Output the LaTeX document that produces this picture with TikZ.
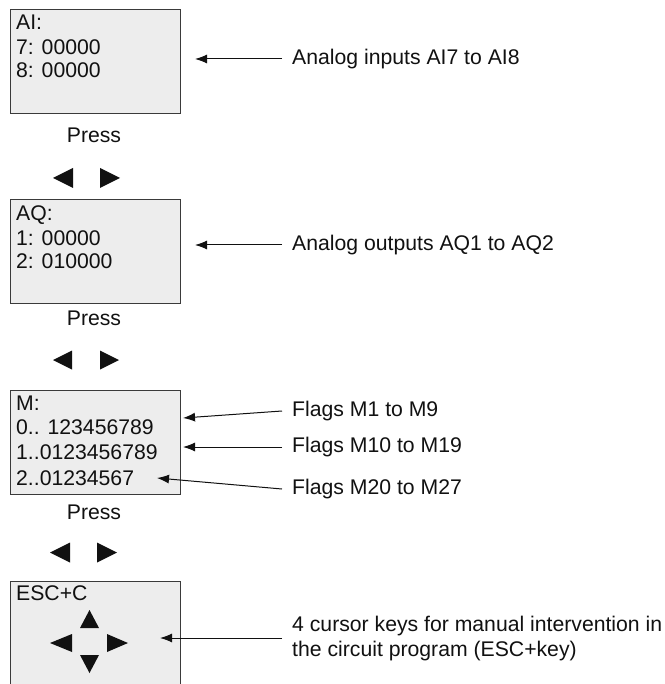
\documentclass[tikz,border=0pt]{standalone}
\usepackage{fontspec}
\setmainfont{Liberation Sans}
\usetikzlibrary{arrows.meta}
\definecolor{boxfill}{HTML}{EDEDED}
\definecolor{boxline}{HTML}{3A3A3A}
\definecolor{ink}{HTML}{111111}
\tikzset{
  screen/.style={draw=boxline, fill=boxfill, line width=1pt},
  scrtext/.style={anchor=base west, inner sep=0pt, text=ink, font=\fontsize{21.2}{25}\selectfont},
  presstext/.style={anchor=base, inner sep=0pt, text=ink, font=\fontsize{21.2}{25}\selectfont},
  label/.style={anchor=west, inner ysep=0pt, inner xsep=10pt, text=ink, font=\fontsize{21.2}{25}\selectfont, align=left},
  pointer/.style={draw=ink, line width=1pt, -{Latex[length=12pt,width=9pt]}},
  key/.style={fill=ink, draw=none}
}
\begin{document}
\begin{tikzpicture}[x=1pt,y=-1pt]
\clip (0,0) rectangle (664,684);
\fill[white] (0,0) rectangle (664,684);

% screens
\node[screen, minimum width=170pt, minimum height=104pt, anchor=north west, inner sep=0pt] (s1) at (10,9) {};
\node[screen, minimum width=170pt, minimum height=104pt, anchor=north west, inner sep=0pt] (s2) at (10,199) {};
\node[screen, minimum width=170pt, minimum height=104pt, anchor=north west, inner sep=0pt] (s3) at (10,390) {};
\node[screen, minimum width=170pt, minimum height=115pt, anchor=north west, inner sep=0pt] (s4) at (10,581) {};

% screen texts
\node[scrtext] (t11) at (16,29.5) {AI:};
\node[scrtext] (t12) at (16,54.5) {7: 00000};
\node[scrtext] (t13) at (16,77.5) {8: 00000};

\node[scrtext] (t21) at (16,221) {AQ:};
\node[scrtext] (t22) at (16,246) {1: 00000};
\node[scrtext] (t23) at (16,269) {2: 010000};

\node[scrtext] (t31) at (16,410.5) {M:};
\node[scrtext] (t32) at (16,434.5) {0.. 123456789};
\node[scrtext] (t33) at (16,459.5) {1..0123456789};
\node[scrtext] (t34) at (16,485) {2..01234567};

\node[scrtext] (t41) at (16,600.5) {ESC+C};

% Press labels
\node[presstext] (p1) at (94,142.5) {Press};
\node[presstext] (p2) at (94,325.5) {Press};
\node[presstext] (p3) at (94,519.5) {Press};

% navigation triangles
\fill[key] (53,178) -- (73,168) -- (73,188) -- cycle;
\fill[key] (120,178) -- (100,168) -- (100,188) -- cycle;
\fill[key] (53,360) -- (72,350.5) -- (72,369.5) -- cycle;
\fill[key] (119,360) -- (100,350.5) -- (100,369.5) -- cycle;
\fill[key] (50,552.5) -- (70,542.5) -- (70,562.5) -- cycle;
\fill[key] (117,552.5) -- (97,542.5) -- (97,562.5) -- cycle;

% cursor keys
\fill[key] (89.5,610) -- (80,628) -- (99,628) -- cycle;
\fill[key] (89.5,673) -- (80,655) -- (99,655) -- cycle;
\fill[key] (50,643) -- (72,634) -- (72,652) -- cycle;
\fill[key] (128,643) -- (107,634) -- (107,652) -- cycle;

% labels
\node[label] (l1) at (282,59) {Analog inputs AI7 to AI8};
\node[label] (l2) at (282,245) {Analog outputs AQ1 to AQ2};
\node[label] (l3) at (282,411) {Flags M1 to M9};
\node[label] (l4) at (282,447) {Flags M10 to M19};
\node[label] (l5) at (282,489) {Flags M20 to M27};
\node[label] (l6) at (282,639) {4 cursor keys for manual intervention in\\the circuit program (ESC+key)};

% arrow tips
\coordinate (a1) at (195,59);
\coordinate (a2) at (195,245);
\coordinate (a3) at (183,418);
\coordinate (a4) at (183,447);
\coordinate (a5) at (157,478);
\coordinate (a6) at (160,638);

\draw[pointer] (l1.west) -- (a1);
\draw[pointer] (l2.west) -- (a2);
\draw[pointer] (l3.west) -- (a3);
\draw[pointer] (l4.west) -- (a4);
\draw[pointer] (l5.west) -- (a5);
\draw[pointer] (l6.west |- a6) -- (a6);
\end{tikzpicture}
\end{document}
